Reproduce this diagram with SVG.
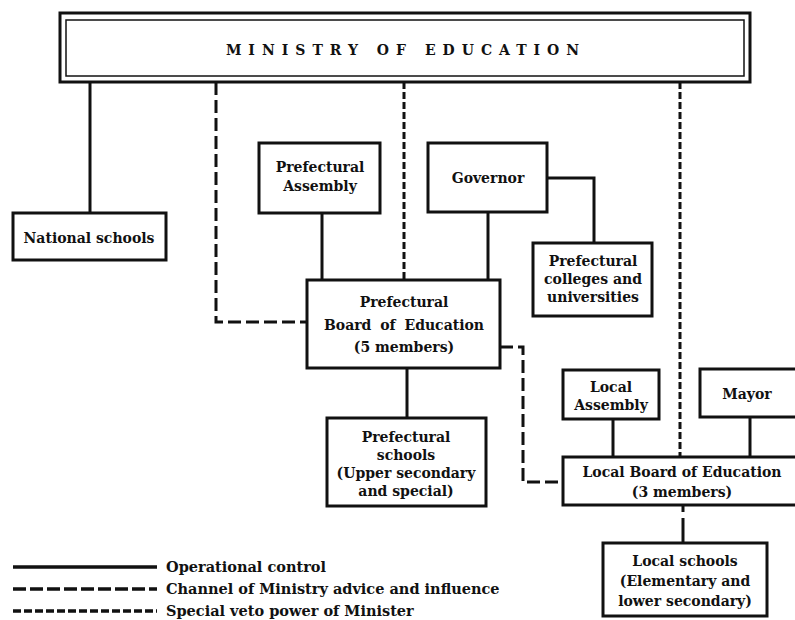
<svg xmlns="http://www.w3.org/2000/svg" width="795" height="620" viewBox="0 0 795 620">
<style>
  .box { fill: #fff; stroke: #111; stroke-width: 3; }
  .t { font-family: "DejaVu Serif", "Liberation Serif", serif; font-weight: bold; font-size: 14px; fill: #111; text-anchor: middle; }
  .lg { font-family: "DejaVu Serif", "Liberation Serif", serif; font-weight: bold; font-size: 14.5px; fill: #111; }
  .solid { fill: none; stroke: #111; stroke-width: 3; }
  .advice { fill: none; stroke: #111; stroke-width: 3; stroke-dasharray: 13 5; }
  .veto { fill: none; stroke: #111; stroke-width: 3; stroke-dasharray: 7 3; }
</style>
<rect width="795" height="620" fill="#fff"/>

<g id="connectors">
  <line class="solid" x1="90" y1="82" x2="90" y2="213"/>
  <polyline class="advice" points="216,82 216,322 307,322"/>
  <line class="veto" x1="404" y1="82" x2="404" y2="280"/>
  <line class="veto" x1="680" y1="82" x2="680" y2="457"/>
  <line class="solid" x1="322" y1="213" x2="322" y2="280"/>
  <line class="solid" x1="488" y1="212" x2="488" y2="280"/>
  <polyline class="solid" points="547,178 594,178 594,243"/>
  <line class="solid" x1="407" y1="368" x2="407" y2="418"/>
  <polyline class="advice" points="500,347 523,347 523,482 563,482"/>
  <line class="solid" x1="613" y1="419" x2="613" y2="457"/>
  <line class="solid" x1="750" y1="417" x2="750" y2="457"/>
  <line class="solid" x1="683" y1="505" x2="683" y2="512"/>
  <line class="solid" x1="683" y1="518" x2="683" y2="543"/>
</g>

<g id="ministry">
  <rect x="60" y="13" width="690" height="69" fill="#fff" stroke="#111" stroke-width="3"/>
  <rect x="66" y="20" width="678" height="56" fill="none" stroke="#111" stroke-width="1.5"/>
  <text class="t" x="406" y="55" font-size="13" letter-spacing="7">MINISTRY OF EDUCATION</text>
</g>

<g id="national-schools">
  <rect class="box" x="13" y="213" width="153" height="47"/>
  <text class="t" x="89" y="243">National schools</text>
</g>

<g id="prefectural-assembly">
  <rect class="box" x="259" y="143" width="121" height="70"/>
  <text class="t" x="320" y="172">Prefectural</text>
  <text class="t" x="320" y="191">Assembly</text>
</g>

<g id="governor">
  <rect class="box" x="428" y="143" width="119" height="69"/>
  <text class="t" x="488" y="183">Governor</text>
</g>

<g id="prefectural-colleges">
  <rect class="box" x="533" y="243" width="119" height="73"/>
  <text class="t" x="593" y="266">Prefectural</text>
  <text class="t" x="593" y="284">colleges and</text>
  <text class="t" x="593" y="302">universities</text>
</g>

<g id="prefectural-board">
  <rect class="box" x="307" y="280" width="193" height="88"/>
  <text class="t" x="404" y="307">Prefectural</text>
  <text class="t" x="404" y="330" word-spacing="4">Board of Education</text>
  <text class="t" x="404" y="352">(5 members)</text>
</g>

<g id="prefectural-schools">
  <rect class="box" x="327" y="418" width="159" height="88"/>
  <text class="t" x="406" y="442">Prefectural</text>
  <text class="t" x="406" y="460">schools</text>
  <text class="t" x="406" y="478">(Upper secondary</text>
  <text class="t" x="406" y="496">and special)</text>
</g>

<g id="local-assembly">
  <rect class="box" x="563" y="370" width="96" height="49"/>
  <text class="t" x="611" y="392">Local</text>
  <text class="t" x="611" y="410">Assembly</text>
</g>

<g id="mayor">
  <rect class="box" x="700" y="369" width="110" height="48"/>
  <text class="t" x="747" y="399">Mayor</text>
</g>

<g id="local-board">
  <rect class="box" x="563" y="457" width="250" height="48"/>
  <text class="t" x="682" y="477">Local Board of Education</text>
  <text class="t" x="682" y="497">(3 members)</text>
</g>

<g id="local-schools">
  <rect class="box" x="603" y="543" width="164" height="73"/>
  <text class="t" x="685" y="566">Local schools</text>
  <text class="t" x="685" y="586">(Elementary and</text>
  <text class="t" x="685" y="606">lower secondary)</text>
</g>

<g id="legend">
  <line x1="13" y1="567" x2="157" y2="567" stroke="#111" stroke-width="3.5"/>
  <line x1="13" y1="589" x2="157" y2="589" stroke="#111" stroke-width="3.5" stroke-dasharray="13 4"/>
  <line x1="13" y1="611" x2="157" y2="611" stroke="#111" stroke-width="3.5" stroke-dasharray="8 3"/>
  <text class="lg" x="166" y="572">Operational control</text>
  <text class="lg" x="166" y="594">Channel of Ministry advice and influence</text>
  <text class="lg" x="166" y="616">Special veto power of Minister</text>
</g>
</svg>
